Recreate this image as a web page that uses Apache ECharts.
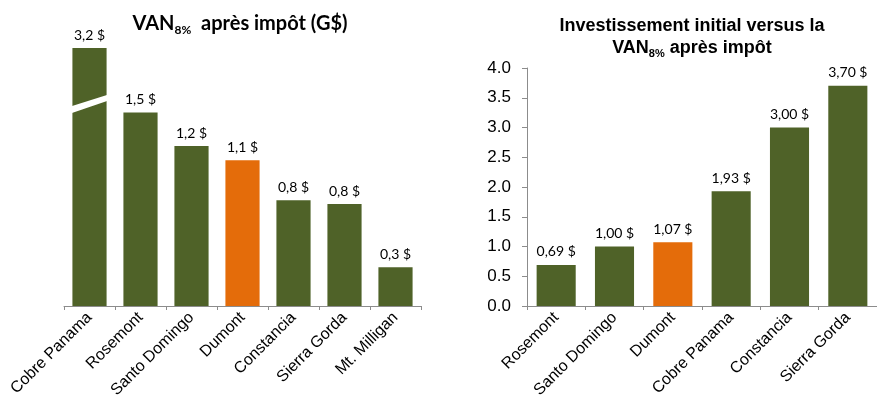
<!DOCTYPE html>
<html>
<head>
<meta charset="utf-8">
<script src="https://cdn.jsdelivr.net/npm/echarts@6/dist/echarts.min.js"></script>
<style>
    html, body { margin: 0; padding: 0; background: #fff; }
    #main { width: 877px; height: 402px; }
</style>
</head>
<body>
<div id="main"></div>
<script>
// VAN 8% après impôt (G$) - Cobre Panama est coupé (3,2 $)
const vanCategories = ['Cobre Panama', 'Rosemont', 'Santo Domingo', 'Dumont', 'Constancia', 'Sierra Gorda', 'Mt. Milligan'];
const vanValues = [3.2, 1.5, 1.24, 1.13, 0.82, 0.79, 0.3];

// Investissement initial versus la VAN
const ratioCategories = ['Rosemont', 'Santo Domingo', 'Dumont', 'Cobre Panama', 'Constancia', 'Sierra Gorda'];
const ratioValues = [0.69, 1.0, 1.07, 1.93, 3.0, 3.7];

const highlight = 'Dumont';
const green = '#4f6228';
const orange = '#e46c0a';
const sans = 'Liberation Sans';

const chartDom = document.getElementById('main');
const myChart = echarts.init(chartDom);

function toData(cats, vals) {
    return vals.map(function (v, i) {
        return {
            value: v,
            itemStyle: { color: cats[i] === highlight ? orange : green }
        };
    });
}

function catAxis(gridIndex, data) {
    return {
        type: 'category',
        gridIndex: gridIndex,
        data: data,
        axisLine: { lineStyle: { color: '#8c8c8c', width: 1 } },
        axisTick: { show: true, length: 4, lineStyle: { color: '#8c8c8c' } },
        axisLabel: {
            rotate: 45,
            interval: 0,
            margin: 9,
            color: '#000',
            fontFamily: sans,
            fontSize: 16
        }
    };
}

const option = {
    animation: false,
    title: [
        {
            text: 'VAN{sub|8%}  après impôt (G$)',
            left: 235,
            top: 6,
            textAlign: 'center',
            textStyle: {
                fontFamily: 'Lato',
                fontWeight: 'bold',
                fontSize: 20,
                color: '#000',
                lineHeight: 25,
                rich: {
                    sub: {
                        fontFamily: 'Lato',
                        fontWeight: 'bold',
                        fontSize: 12,
                        lineHeight: 25,
                        verticalAlign: 'bottom',
                        color: '#000'
                    }
                }
            }
        },
        {
            text: 'Investissement initial versus la\nVAN{sub|8%} après impôt',
            left: 687,
            top: 10,
            textAlign: 'center',
            textStyle: {
                fontFamily: sans,
                fontWeight: 'bold',
                fontSize: 18,
                color: '#000',
                lineHeight: 22,
                rich: {
                    sub: {
                        fontFamily: sans,
                        fontWeight: 'bold',
                        fontSize: 11,
                        lineHeight: 22,
                        verticalAlign: 'bottom',
                        color: '#000'
                    }
                }
            }
        }
    ],
    grid: [
        { left: 64, right: 456, top: 48, bottom: 96 },
        { left: 527, right: -8, top: 68, bottom: 96 }
    ],
    xAxis: [
        catAxis(0, vanCategories),
        catAxis(1, ratioCategories)
    ],
    yAxis: [
        {
            type: 'value',
            gridIndex: 0,
            min: 0,
            max: 2.0,
            show: false
        },
        {
            type: 'value',
            gridIndex: 1,
            min: 0,
            max: 4,
            interval: 0.5,
            splitLine: { show: false },
            axisLine: { show: true, lineStyle: { color: '#8c8c8c' } },
            axisTick: { show: true, length: 5, lineStyle: { color: '#8c8c8c' } },
            axisLabel: {
                color: '#000',
                fontFamily: sans,
                fontSize: 17,
                margin: 16,
                formatter: function (v) { return v.toFixed(1); }
            }
        }
    ],
    series: [
        {
            type: 'bar',
            xAxisIndex: 0,
            yAxisIndex: 0,
            barCategoryGap: '33%',
            clip: true,
            data: toData(vanCategories, vanValues),
            label: {
                show: true,
                position: 'top',
                distance: 6,
                color: '#000',
                fontFamily: 'Lato',
                fontSize: 14,
                formatter: function (p) { return p.value.toFixed(1).replace('.', ',') + ' $'; }
            }
        },
        {
            type: 'bar',
            xAxisIndex: 1,
            yAxisIndex: 1,
            barCategoryGap: '33%',
            data: toData(ratioCategories, ratioValues),
            label: {
                show: true,
                position: 'top',
                distance: 6,
                color: '#000',
                fontFamily: 'Lato',
                fontSize: 14,
                formatter: function (p) { return p.value.toFixed(2).replace('.', ',') + ' $'; }
            }
        }
    ]
};

myChart.setOption(option);

// coupure blanche en biais sur la barre Cobre Panama
const cut = myChart.convertToPixel({ gridIndex: 0 }, [vanCategories[0], 1.5]);
const half = 19;
myChart.setOption({
    graphic: [{
        type: 'polygon',
        shape: {
            points: [
                [cut[0] - half, cut[1] - 6],
                [cut[0] + half, cut[1] - 18],
                [cut[0] + half, cut[1] - 12],
                [cut[0] - half, cut[1] + 1]
            ]
        },
        style: { fill: '#fff' },
        z: 100
    }]
});

window.addEventListener('resize', function () {
    myChart.resize();
});
</script>
</body>
</html>
